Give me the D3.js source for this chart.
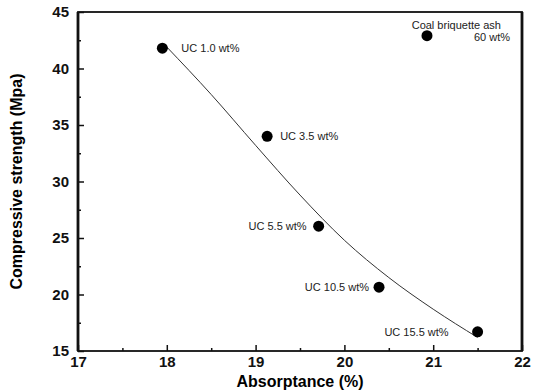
<!DOCTYPE html>
<html>
<head>
<meta charset="utf-8">
<script src="https://cdn.jsdelivr.net/npm/d3@7"></script>
<style>
  body { margin: 0; background: #fff; }
  text { font-family: "Liberation Sans", Arial, sans-serif; }
</style>
</head>
<body>
<svg id="chart"></svg>
<script>
// data
var absorptance = [17.95, 19.13, 20.93, 19.71, 20.39, 21.5];
var strength    = [41.8, 34.0, 42.9, 26.05, 20.65, 16.7];
var pointLabels = ["UC 1.0 wt%", "UC 3.5 wt%", "Coal briquette ash|60 wt%", "UC 5.5 wt%", "UC 10.5 wt%", "UC 15.5 wt%"];

// fitted trend line
var fitX = [18.0, 18.5, 19.0, 19.5, 20.0, 20.5, 21.0, 21.5];
var fitY = [41.9, 37.7, 33.2, 28.8, 24.8, 21.5, 18.7, 16.2];

var xTicks = [17, 18, 19, 20, 21, 22];
var yTicks = [15, 20, 25, 30, 35, 40, 45];

// set the dimensions and margins of the graph
var margin = {top: 12, right: 21, bottom: 40, left: 78},
    width  = 543 - margin.left - margin.right,
    height = 391 - margin.top - margin.bottom;

var svg = d3.select("#chart")
    .attr("width", 543)
    .attr("height", 391)
    .append("g")
        .attr("transform", "translate(" + margin.left + "," + margin.top + ")");

var x = d3.scaleLinear().domain([17, 22]).range([0, width]);
var y = d3.scaleLinear().domain([15, 45]).range([height, 0]);

// minor ticks (inward)
svg.append("g")
    .attr("transform", "translate(0," + height + ")")
    .call(d3.axisBottom(x).tickValues(d3.range(17.5, 22, 1)).tickSizeInner(-3).tickSizeOuter(0).tickFormat(""))
    .call(function(g) { g.select(".domain").remove(); });
svg.append("g")
    .call(d3.axisLeft(y).tickValues(d3.range(17.5, 45, 5)).tickSizeInner(-3).tickSizeOuter(0).tickFormat(""))
    .call(function(g) { g.select(".domain").remove(); });

// major ticks
svg.append("g")
    .attr("class", "x-axis")
    .attr("transform", "translate(0," + height + ")")
    .call(d3.axisBottom(x).tickValues(xTicks).tickSizeInner(-6).tickSizeOuter(0).tickPadding(5).tickFormat(d3.format("d")))
    .call(function(g) { g.select(".domain").remove(); });

svg.append("g")
    .attr("class", "y-axis")
    .call(d3.axisLeft(y).tickValues(yTicks).tickSizeInner(-6).tickSizeOuter(0).tickPadding(9).tickFormat(d3.format("d")))
    .call(function(g) { g.select(".domain").remove(); });

svg.selectAll(".x-axis text, .y-axis text")
    .attr("font-family", "DejaVu Sans, sans-serif")
    .attr("font-size", 15)
    .attr("font-weight", "bold")
    .attr("fill", "#111");
svg.selectAll(".tick line").attr("stroke", "#111").attr("stroke-width", 1.5);

// frame
svg.append("rect")
    .attr("width", width).attr("height", height)
    .attr("fill", "none").attr("stroke", "#111").attr("stroke-width", 1.8);
svg.append("line").attr("x1", 0).attr("x2", 0).attr("y1", 0).attr("y2", height)
    .attr("stroke", "#111").attr("stroke-width", 2.8);
svg.append("line").attr("x1", width).attr("x2", width).attr("y1", 0).attr("y2", height)
    .attr("stroke", "#111").attr("stroke-width", 2.8);

// trend line
var fit = fitX.map(function(d, i) { return [d, fitY[i]]; });
svg.append("path")
    .datum(fit)
    .attr("fill", "none")
    .attr("stroke", "#333")
    .attr("stroke-width", 1)
    .attr("d", d3.line().x(function(d) { return x(d[0]); }).y(function(d) { return y(d[1]); }).curve(d3.curveMonotoneX));

// points
var pts = absorptance.map(function(d, i) { return {x: d, y: strength[i], label: pointLabels[i]}; });
svg.selectAll("circle.pt")
    .data(pts)
    .enter().append("circle")
        .attr("class", "pt")
        .attr("cx", function(d) { return x(d.x); })
        .attr("cy", function(d) { return y(d.y); })
        .attr("r", 5.5)
        .attr("fill", "#000");

// point labels: offsets relative to each point
var labelPos = [
    {dx: 19, dy: 4, anchor: "start"},
    {dx: 13, dy: 4, anchor: "start"},
    {dx: 74, dy: -7, anchor: "end"},
    {dx: -12, dy: 4, anchor: "end"},
    {dx: -10, dy: 4, anchor: "end"},
    {dx: -29, dy: 4, anchor: "end"}
];
pts.forEach(function(d, i) {
    var p = labelPos[i];
    var lines = d.label.split("|");
    var t = svg.append("text")
        .attr("x", x(d.x) + p.dx)
        .attr("y", y(d.y) + p.dy)
        .attr("text-anchor", p.anchor)
        .attr("font-size", 11)
        .attr("fill", "#222");
    lines.forEach(function(l, j) {
        t.append("tspan")
            .attr("x", x(d.x) + p.dx + (j > 0 ? 9 : 0))
            .attr("dy", j > 0 ? 12 : 0)
            .text(l);
    });
});

// axis titles
svg.append("text")
    .attr("x", width / 2)
    .attr("y", height + 36)
    .attr("text-anchor", "middle")
    .attr("font-family", "DejaVu Sans, sans-serif")
    .attr("font-size", 16)
    .attr("font-weight", "bold")
    .text("Absorptance (%)");

svg.append("text")
    .attr("transform", "translate(" + (-56) + "," + (height / 2) + ") rotate(-90)")
    .attr("text-anchor", "middle")
    .attr("font-size", 16)
    .attr("font-weight", "bold")
    .text("Compressive strength (Mpa)");
</script>
</body>
</html>
